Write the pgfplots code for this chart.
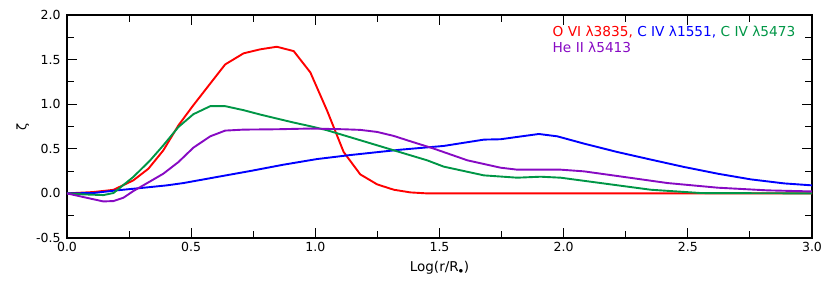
\documentclass[border=0pt]{standalone}
\usepackage{pgfplots}
\pgfplotsset{compat=1.18}
\usepackage{fontspec}
\setmainfont{DejaVu Sans}
\definecolor{cred}{RGB}{255,0,0}
\definecolor{cblue}{RGB}{0,0,255}
\definecolor{cgreen}{RGB}{0,150,70}
\definecolor{cpurple}{RGB}{135,10,195}
\begin{document}
\begin{tikzpicture}
\begin{axis}[
  at={(0,0)}, anchor=south west,
  scale only axis, width=745pt, height=223pt,
  xmin=0, xmax=3, ymin=-0.5, ymax=2,
  xtick={0,0.5,...,3}, ytick={-0.5,0,...,2},
  minor x tick num=1, minor y tick num=1,
  tick align=inside, major tick length=10pt, minor tick length=7pt,
  axis line style={line width=1.1pt}, every tick/.style={line width=1.1pt, black},
  tick label style={font=\fontsize{12.5}{14}\selectfont},
  /pgf/number format/assume math mode=true,
  /pgf/number format/.cd, fixed, fixed zerofill, precision=1, /pgfplots/.cd,
  xticklabel style={yshift=-1pt},
  yticklabel style={xshift=-3pt},
  xlabel={Log(r/R$_{\bullet}$)}, ylabel={\rotatebox{90}{ζ}},
  xlabel style={font=\fontsize{13.5}{15}\selectfont, yshift=-2pt},
  every axis y label/.style={at={(ticklabel cs:0.5)}, anchor=east, font=\fontsize{13}{15}\selectfont},
  every axis plot/.append style={line width=1.9pt, line join=round},
]
\addplot[cred] coordinates {
(0,0) (0.106,0.015) (0.187,0.04) (0.267,0.146) (0.328,0.277) (0.388,0.483) (0.449,0.764) (0.509,0.989) (0.577,1.232) (0.637,1.446) (0.711,1.57) (0.778,1.615) (0.845,1.644) (0.913,1.595) (0.98,1.356) (1.047,0.93) (1.114,0.464) (1.181,0.213) (1.249,0.101) (1.316,0.041) (1.383,0.011) (1.45,0.0) (2,0) (3,0)};
\addplot[cblue] coordinates {
(0,0) (0.106,0.004) (0.2,0.034) (0.267,0.052) (0.335,0.071) (0.402,0.09) (0.469,0.116) (0.604,0.184) (0.738,0.251) (0.872,0.322) (1.007,0.385) (1.141,0.43) (1.275,0.47) (1.343,0.49) (1.517,0.532) (1.679,0.603) (1.746,0.607) (1.813,0.633) (1.9,0.666) (1.974,0.64) (2.082,0.558) (2.216,0.464) (2.351,0.379) (2.485,0.296) (2.62,0.221) (2.754,0.157) (2.888,0.112) (3.0,0.09)};
\addplot[cgreen] coordinates {
(0,0) (0.066,-0.011) (0.146,-0.019) (0.187,0.004) (0.267,0.184) (0.335,0.371) (0.388,0.539) (0.449,0.745) (0.509,0.888) (0.577,0.978) (0.637,0.978) (0.711,0.933) (0.778,0.884) (0.845,0.839) (0.913,0.794) (0.98,0.753) (1.047,0.708) (1.114,0.652) (1.181,0.596) (1.249,0.539) (1.316,0.483) (1.383,0.427) (1.45,0.371) (1.517,0.3) (1.679,0.202) (1.813,0.176) (1.907,0.187) (1.988,0.176) (2.149,0.116) (2.351,0.041) (2.552,0.004) (3,0)};
\addplot[cpurple] coordinates {
(0,0) (0.066,-0.041) (0.146,-0.09) (0.187,-0.086) (0.227,-0.049) (0.267,0.026) (0.335,0.135) (0.388,0.221) (0.449,0.352) (0.509,0.513) (0.577,0.64) (0.637,0.704) (0.711,0.715) (0.845,0.719) (0.98,0.727) (1.114,0.719) (1.181,0.712) (1.249,0.689) (1.316,0.644) (1.383,0.584) (1.477,0.502) (1.612,0.371) (1.746,0.288) (1.813,0.266) (1.988,0.266) (2.082,0.247) (2.216,0.195) (2.418,0.116) (2.62,0.064) (2.821,0.034) (3.0,0.022)};
\node[anchor=west, inner sep=0pt, font=\fontsize{13.7}{15}\selectfont] at (axis cs:1.955,1.81) {\textcolor{cred}{O VI λ3835,} \textcolor{cblue}{C IV λ1551,} \textcolor{cgreen}{C IV λ5473}};
\node[anchor=west, inner sep=0pt, font=\fontsize{13.7}{15}\selectfont] at (axis cs:1.955,1.64) {\textcolor{cpurple}{He II λ5413}};
\end{axis}
\pgfresetboundingbox
\path[use as bounding box] (-67pt,-58pt) rectangle (764pt,238pt);
\end{tikzpicture}
\end{document}
